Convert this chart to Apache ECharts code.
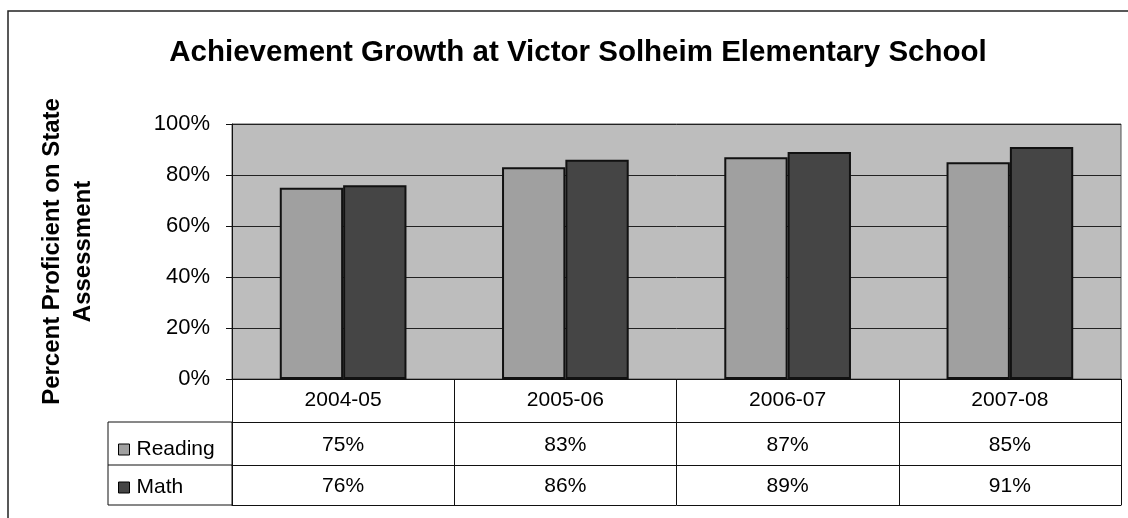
<!DOCTYPE html>
<html>
<head>
<meta charset="utf-8">
<title>Achievement Growth</title>
<script src="https://cdn.jsdelivr.net/npm/echarts@6/dist/echarts.min.js"></script>
<style>
  html, body { margin: 0; padding: 0; background: #fff; }
  #chart { width: 1128px; height: 518px; }
</style>
</head>
<body>
<div id="chart"></div>
<script>
var years = ['2004-05', '2005-06', '2006-07', '2007-08'];
var reading = [75, 83, 87, 85];
var math = [76, 86, 89, 91];
var yTicks = [0, 20, 40, 60, 80, 100];

var font = 'Liberation Sans, Arial, sans-serif';
var chart = echarts.init(document.getElementById('chart'));

// extra bottom axes act as the rows of the data table
function tableRow(offset, values, margin) {
  return {
    type: 'category',
    data: years,
    position: 'bottom',
    offset: offset,
    axisLine: { show: true, lineStyle: { color: '#111', width: 1 } },
    axisTick: { show: false },
    splitLine: { show: false },
    axisLabel: {
      show: !!values,
      margin: margin,
      fontSize: 21,
      fontFamily: font,
      color: '#000',
      formatter: function (v, i) { return values ? values[i] + '%' : ''; }
    }
  };
}

var option = {
  animation: false,
  title: {
    text: 'Achievement Growth at Victor Solheim Elementary School',
    left: 573,
    textAlign: 'center',
    top: 33,
    textStyle: { fontSize: 29.5, fontWeight: 'bold', fontFamily: font, color: '#000' }
  },
  legend: {
    orient: 'vertical',
    left: 113,
    top: 434,
    itemWidth: 11,
    itemHeight: 11,
    itemGap: 17,
    icon: 'rect',
    itemStyle: { borderWidth: 1, borderColor: '#000' },
    textStyle: { fontSize: 21, fontFamily: font, color: '#000', padding: [0, 0, 0, 2] },
    data: ['Reading', 'Math']
  },
  grid: {
    left: 232,
    top: 124,
    width: 889,
    height: 255,
    show: true,
    backgroundColor: '#bdbdbd',
    borderColor: '#555',
    borderWidth: 1
  },
  xAxis: [
    {
      type: 'category',
      data: years,
      axisLine: { show: true, lineStyle: { color: '#111', width: 1 } },
      axisTick: { show: true, interval: 0, length: 126, lineStyle: { color: '#111', width: 1 } },
      axisLabel: { margin: 11, fontSize: 21, fontFamily: font, color: '#000', interval: 0 },
      splitLine: { show: false }
    },
    tableRow(43, reading, 13),
    tableRow(86, math, 11),
    tableRow(126, null, 11)
  ],
  yAxis: {
    type: 'value',
    min: yTicks[0],
    max: yTicks[yTicks.length - 1],
    interval: yTicks[1] - yTicks[0],
    name: 'Percent Proficient on State\nAssessment',
    nameLocation: 'middle',
    nameRotate: 90,
    nameGap: 133,
    nameTextStyle: { fontSize: 24, fontWeight: 'bold', fontFamily: font, color: '#000', lineHeight: 31 },
    axisLine: { show: true, lineStyle: { color: '#111', width: 1 } },
    axisTick: { show: true, length: 6, lineStyle: { color: '#111' } },
    axisLabel: { margin: 22, fontSize: 22, fontFamily: font, color: '#000', formatter: '{value}%' },
    splitLine: { show: true, lineStyle: { color: '#222', width: 1 } }
  },
  series: [
    {
      name: 'Reading',
      type: 'bar',
      data: reading,
      barGap: '0%',
      barCategoryGap: '43%',
      itemStyle: { color: '#a0a0a0', borderColor: '#111', borderWidth: 2 }
    },
    {
      name: 'Math',
      type: 'bar',
      data: math,
      itemStyle: { color: '#454545', borderColor: '#111', borderWidth: 2 }
    }
  ],
  graphic: [
    // outer chart frame (right and bottom fall outside the picture)
    { type: 'rect', shape: { x: 8, y: 11, width: 1140, height: 530 }, style: { fill: 'none', stroke: '#222', lineWidth: 1.5 }, silent: true },
    // legend column of the data table
    { type: 'rect', shape: { x: 108, y: 422, width: 124, height: 83 }, style: { fill: 'none', stroke: '#111', lineWidth: 1 }, silent: true },
    { type: 'line', shape: { x1: 108, y1: 465, x2: 232, y2: 465 }, style: { stroke: '#111', lineWidth: 1 }, silent: true }
  ]
};

chart.setOption(option);
</script>
</body>
</html>
